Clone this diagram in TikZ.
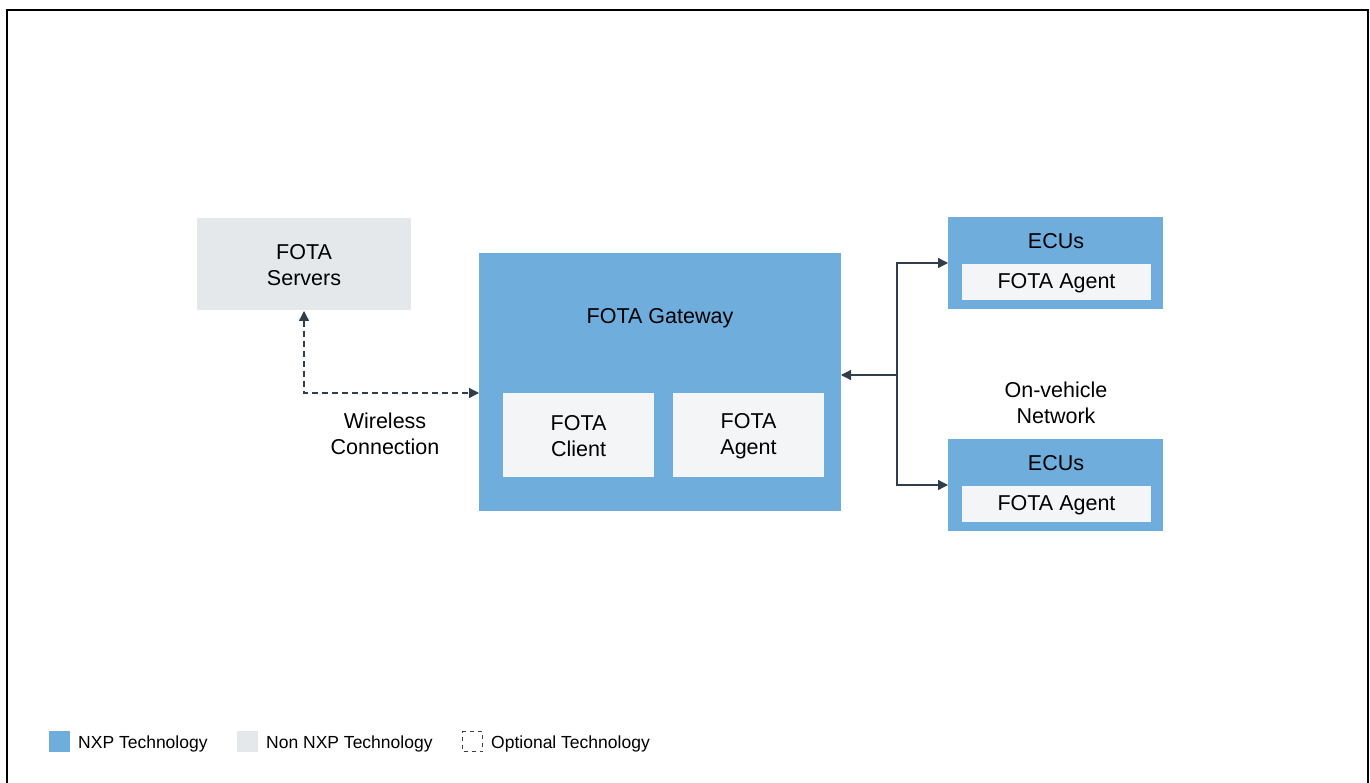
\documentclass[tikz,border=0pt]{standalone}
\usepackage{fontspec}
\setmainfont{Liberation Sans}
\usetikzlibrary{arrows.meta}
\definecolor{nxp}{HTML}{6FADDD}
\definecolor{nonnxp}{HTML}{E4E8EB}
\definecolor{inner}{HTML}{F4F5F7}
\definecolor{conn}{HTML}{2F3E4A}
\tikzset{
  box/.style={draw=none, inner sep=0pt, outer sep=0pt},
  lbl/.style={font=\fontsize{21.5}{26}\selectfont, align=center, text=black, inner sep=0pt, yshift=-1.5pt},
  leg/.style={font=\fontsize{17.5}{20}\selectfont, anchor=west, inner sep=0pt, yshift=-1.5pt},
  arr/.style={draw=conn, line width=1.3pt, -{Triangle[length=10pt,width=10pt]}},
  darr/.style={draw=conn, line width=1.3pt, dash pattern=on 6pt off 4pt, {Triangle[length=10pt,width=10pt]}-{Triangle[length=10pt,width=10pt]}},
}
\begin{document}
\begin{tikzpicture}[x=1pt,y=-1pt]
\useasboundingbox (0,0) rectangle (1370,783);
\fill[white] (0,0) rectangle (1370,783);
% frame
\draw[black, line width=2.2pt] (7,790) -- (7,10) -- (1368,10) -- (1368,790);
% FOTA servers
\node[box, fill=nonnxp, minimum width=214pt, minimum height=92pt] (srv) at (304,264) {};
\node[lbl] at (srv) {FOTA\\Servers};
% Gateway
\node[box, fill=nxp, minimum width=362pt, minimum height=258pt] (gw) at (660,382) {};
\node[lbl] (gwl) at (660,317) {FOTA Gateway};
\node[box, fill=inner, minimum width=151pt, minimum height=84pt] (cl) at (578.5,435) {};
\node[lbl] at (cl) {FOTA\\Client};
\node[box, fill=inner, minimum width=151pt, minimum height=84pt] (ag) at (748.5,435) {};
\node[lbl] at (ag) {FOTA\\Agent};
% ECUs top
\node[box, fill=nxp, minimum width=215pt, minimum height=92pt] (e1) at (1055.5,263) {};
\node[lbl] at (1056,240) {ECUs};
\node[box, fill=inner, minimum width=189pt, minimum height=36pt] (a1) at (1056.5,282) {};
\node[lbl] at (a1) {FOTA Agent};
% ECUs bottom
\node[box, fill=nxp, minimum width=215pt, minimum height=92pt] (e2) at (1055.5,485) {};
\node[lbl] at (1056,462) {ECUs};
\node[box, fill=inner, minimum width=189pt, minimum height=36pt] (a2) at (1056.5,503.5) {};
\node[lbl] at (a2) {FOTA Agent};
% labels
\node[lbl] (net) at (1056,401) {On-vehicle\\Network};
\node[lbl] (wl) at (385,432) {Wireless\\Connection};
% connectors
\coordinate (hub) at (897,375);
\draw[darr] (srv.south) ++(0,1) |- (gw.west |- 0,393);
\draw[arr] (hub) -- (gw.east |- hub);
\draw[arr] (hub) |- (e1.west |- 0,263);
\draw[arr] (hub) |- (e2.west |- 0,485);
% legend
\node[box, fill=nxp, minimum width=21pt, minimum height=21pt] (l1) at (59.5,741.5) {};
\node[leg] at (78,742) {NXP Technology};
\node[box, fill=nonnxp, minimum width=21pt, minimum height=21pt] (l2) at (247.5,741.5) {};
\node[leg] at (266,742) {Non NXP Technology};
\node[box, draw=black!75, line width=0.8pt, dash pattern=on 4pt off 4pt, dash phase=-1pt, minimum width=20pt, minimum height=20pt] (l3) at (472.5,741.5) {};
\node[leg] at (491,742) {Optional Technology};
\end{tikzpicture}
\end{document}
